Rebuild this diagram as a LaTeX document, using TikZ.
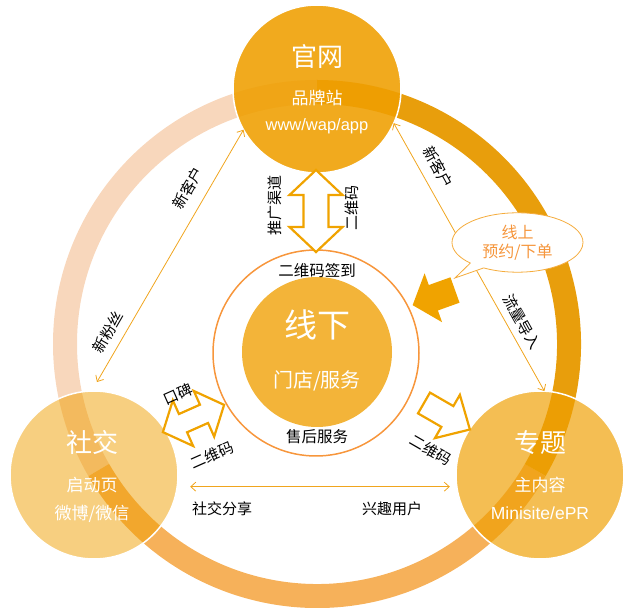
\documentclass[tikz,border=0pt]{standalone}
\usepackage{fontspec}
\setmainfont{Liberation Sans}
\newfontfamily\cjk{Noto Sans CJK SC}
\usetikzlibrary{arrows.meta, shapes.callouts}

\begin{document}
\begin{tikzpicture}[x=1pt, y=1pt,
    hub/.style={circle, minimum size=168pt, inner sep=0pt, outer sep=0pt,
        fill=hubc, draw=white, line width=1.5pt},
    hubtitle/.style={text=white, font=\cjk\fontsize{26}{26}\selectfont},
    hubtext/.style={text=white, font=\cjk\fontsize{17}{17}\selectfont},
    hublatin/.style={text=white, font=\fontsize{16.5}{16.5}\selectfont},
    tag/.style={text=black, font=\cjk\fontsize{15}{15}\selectfont, inner sep=1pt},
    link/.style={draw=linec, line width=0.8pt,
        {Straight Barb[length=5pt, width=9pt]}-{Straight Barb[length=5pt, width=9pt]}},
    blockarrow/.style={draw=arrowc, fill=white, line width=2.2pt, line join=miter}
]

% Define colors - matching the reference image
\definecolor{hubc}{RGB}{239,159,1}
\definecolor{ringleft}{RGB}{248,215,188}
\definecolor{ringright}{RGB}{232,158,12}
\definecolor{ringbottom}{RGB}{246,177,90}
\definecolor{ringo}{RGB}{247,150,60}
\definecolor{linec}{RGB}{240,165,30}
\definecolor{arrowc}{RGB}{240,163,0}
\definecolor{calloutc}{RGB}{245,172,60}
\definecolor{calloutt}{RGB}{246,150,60}

\useasboundingbox (0,0) rectangle (627,608);

% Big ring in three coloured arcs
\coordinate (ringc) at (317,264);
\draw[ringleft, line width=24pt] (ringc) ++(90:252) arc (90:210:252);
\draw[ringbottom, line width=24pt] (ringc) ++(210:252) arc (210:330:252);
\draw[ringright, line width=24pt] (ringc) ++(330:252) arc (330:450:252);

% Three hubs on the ring
\node[hub, fill opacity=0.885] (gw) at (317,519) {};
\node[hub, fill opacity=0.5] (sj) at (94,133) {};
\node[hub, fill opacity=0.68] (zt) at (540,133) {};

\node[hubtitle] (gwtitle) at ([yshift=32pt]gw.center) {官网};
\node[hubtext] (gwsub) at ([yshift=-9pt]gw.center) {品牌站};
\node[hublatin] (gwurl) at ([yshift=-37pt]gw.center) {www/wap/app};

\node[hubtitle] (sjtitle) at ([xshift=-2pt, yshift=32pt]sj.center) {社交};
\node[hubtext] (sjsub) at ([xshift=-2pt, yshift=-10pt]sj.center) {启动页};
\node[hubtext] (sjapps) at ([xshift=-2pt, yshift=-39pt]sj.center) {微博/微信};

\node[hubtitle] (zttitle) at ([yshift=32pt]zt.center) {专题};
\node[hubtext] (ztsub) at ([yshift=-10pt]zt.center) {主内容};
\node[hublatin, font=\fontsize{17.5}{17.5}\selectfont] (ztsite) at ([yshift=-38pt]zt.center) {Minisite/ePR};

% Offline hub in the middle
\node[circle, minimum size=206pt, inner sep=0pt, draw=ringo, line width=1.5pt] (offring) at (316,255) {};
\node[circle, minimum size=150pt, inner sep=0pt, fill=hubc, fill opacity=0.78] (off) at (317,256) {};
\node[hubtitle, font=\cjk\fontsize{33}{33}\selectfont] (offtitle) at ([yshift=27pt]off.center) {线下};
\node[hubtext, font=\cjk\fontsize{20}{20}\selectfont] (offsub) at ([yshift=-29pt]off.center) {门店/服务};
\node[tag, font=\cjk\fontsize{15.5}{15.5}\selectfont] (offin) at ([yshift=81pt]off.center) {二维码签到};
\node[tag, font=\cjk\fontsize{15.5}{15.5}\selectfont] (offout) at ([yshift=-85pt]off.center) {售后服务};

% Thin links between hubs
\draw[link] (gw.209) -- ([yshift=9pt]sj.88);
\draw[link] (gw.336) -- (zt.87);
\draw[link] ([xshift=13pt]sj.-8) -- ([xshift=-7pt]zt.188);

\node[tag, rotate=60] (newcustl) at (188,420) {新客户};
\node[tag, rotate=60] (newfans) at (108,276) {新粉丝};
\node[tag, rotate=-61] (newcustr) at (438,441) {新客户};
\node[tag, rotate=-61] (traffic) at (522,286) {流量导入};
\node[tag] (share) at (222,99) {社交分享};
\node[tag] (interest) at (392,99) {兴趣用户};

% Block arrow: gw <-> offline
\begin{scope}[shift={(316,397)}, rotate=90]
\draw[blockarrow] (-41,0) -- (-16,26.5) -- (-16,12.5) -- (16,12.5) -- (16,26.5) -- (41,0)
    -- (16,-26.5) -- (16,-12.5) -- (-16,-12.5) -- (-16,-26.5) -- cycle;
\end{scope}
\node[tag, rotate=90] (promo) at (275,402) {推广渠道};
\node[tag, rotate=90] (qrtop) at (352,400) {二维码};

% Block arrow: sj <-> offline
\begin{scope}[shift={(193.5,189.5)}, rotate=24]
\draw[blockarrow] (-33.5,0) -- (-11.5,25) -- (-11.5,10) -- (11.5,10) -- (11.5,25) -- (33.5,0)
    -- (11.5,-25) -- (11.5,-10) -- (-11.5,-10) -- (-11.5,-25) -- cycle;
\end{scope}
\node[tag, rotate=24] (wordmouth) at (178,214) {口碑};
\node[tag, rotate=24] (qrleft) at (212,153) {二维码};

% Block arrow: offline -> zt
\begin{scope}[shift={(424,205)}, rotate=-30]
\draw[blockarrow] (0,12) -- (27,12) -- (27,25) -- (53,0) -- (27,-25) -- (27,-12) -- (0,-12) -- cycle;
\end{scope}
\node[tag, rotate=-30] (qrright) at (431,158) {二维码};

% Online callout and its arrow into the offline hub
\node[ellipse callout, draw=calloutc, line width=0.8pt, fill=white,
    minimum width=131pt, minimum height=55pt, callout absolute pointer={(455,330)},
    align=center, text=calloutt, font=\cjk\fontsize{16}{19}\selectfont] (online) at (517.5,365.5) {线上\\预约/下单};
\begin{scope}[shift={(455,318)}, rotate=199.7]
\fill[arrowc] (0,13.5) -- (23,13.5) -- (23,26) -- (45,0) -- (23,-26) -- (23,-13.5) -- (0,-13.5) -- cycle;
\end{scope}

\end{tikzpicture}
\end{document}
